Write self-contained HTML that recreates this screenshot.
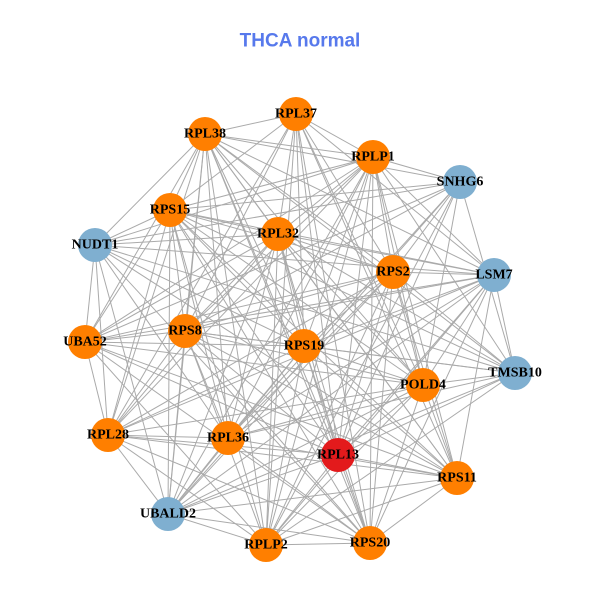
<!DOCTYPE html>
<html><head><meta charset="utf-8"><style>
html,body{margin:0;padding:0;background:#fff;width:600px;height:600px;overflow:hidden}
svg{display:block}
.t{font-family:"Liberation Serif",serif;font-weight:bold;font-size:14px;fill:#000;text-anchor:middle;dominant-baseline:central}
</style></head><body>
<svg id="s" width="600" height="600" viewBox="0 0 600 600">
<text x="300" y="41" text-anchor="middle" dominant-baseline="central" font-family="Liberation Sans,sans-serif" font-weight="bold" font-size="19" fill="#5779ec">THCA normal</text>
<g id="e" stroke="#aaaaaa" stroke-width="1"></g>
<g id="n"></g>
<g>
<text class="t" x="296" y="114">RPL37</text>
<text class="t" x="205" y="134">RPL38</text>
<text class="t" x="373" y="157">RPLP1</text>
<text class="t" x="460" y="182">SNHG6</text>
<text class="t" x="170" y="210">RPS15</text>
<text class="t" x="278" y="234">RPL32</text>
<text class="t" x="95" y="245">NUDT1</text>
<text class="t" x="393" y="272">RPS2</text>
<text class="t" x="494" y="275">LSM7</text>
<text class="t" x="85" y="342">UBA52</text>
<text class="t" x="185" y="331">RPS8</text>
<text class="t" x="304" y="346">RPS19</text>
<text class="t" x="515" y="373">TMSB10</text>
<text class="t" x="423" y="385">POLD4</text>
<text class="t" x="108" y="435">RPL28</text>
<text class="t" x="228" y="438">RPL36</text>
<text class="t" x="338" y="455">RPL13</text>
<text class="t" x="457" y="478">RPS11</text>
<text class="t" x="168" y="514">UBALD2</text>
<text class="t" x="266" y="545">RPLP2</text>
<text class="t" x="370" y="543">RPS20</text>
</g>
</svg>
<script>
var N=[[296,114,0],[205,134,0],[373,157,0],[460,182,1],[170,210,0],[278,234,0],[95,245,1],[393,272,0],[494,275,1],[85,342,0],[185,331,0],[304,346,0],[515,373,1],[423,385,0],[108,435,0],[228,438,0],[338,455,2],[457,478,0],[168,514,1],[266,545,0],[370,543,0]];
var C=["#ff7f00","#7fafd0","#e31a1c"];
var ns="http://www.w3.org/2000/svg",e=document.getElementById("e"),g=document.getElementById("n");
for(var i=0;i<N.length;i++)for(var j=i+1;j<N.length;j++){
 if((i*7+j*3)%9==0)continue;
 var l=document.createElementNS(ns,"line");
 l.setAttribute("x1",N[i][0]);l.setAttribute("y1",N[i][1]);l.setAttribute("x2",N[j][0]);l.setAttribute("y2",N[j][1]);e.appendChild(l);}
N.forEach(function(p){var c=document.createElementNS(ns,"circle");c.setAttribute("cx",p[0]);c.setAttribute("cy",p[1]);c.setAttribute("r",17);c.setAttribute("fill",C[p[2]]);g.appendChild(c);});
</script>
</body></html>
